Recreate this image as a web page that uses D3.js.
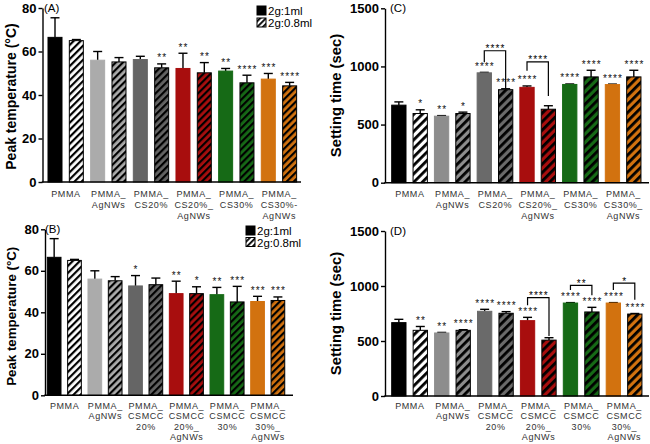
<!DOCTYPE html>
<html><head><meta charset="utf-8">
<script src="https://cdn.jsdelivr.net/npm/d3@7"></script>
<style>body{margin:0;background:#fff} svg{display:block} text{font-family:"Liberation Sans",Arial,sans-serif}</style>
</head><body><svg id="c" width="650" height="444"></svg>
<script>
// ---------- data ----------
const groupsCS = ["PMMA","PMMA_|AgNWs","PMMA_|CS20%","PMMA_|CS20%_|AgNWs","PMMA_|CS30%","PMMA_|CS30%-|AgNWs"];
const groupsCS_C = ["PMMA","PMMA_|AgNWs","PMMA_|CS20%","PMMA_|CS20%_|AgNWs","PMMA_|CS30%","PMMA_|CS30%_|AgNWs"];
const groupsCSMCC = ["PMMA","PMMA_|AgNWs","PMMA_|CSMCC|20%","PMMA_|CSMCC|20%_|AgNWs","PMMA_|CSMCC|30%","PMMA_|CSMCC|30%_|AgNWs"];
const seriesNames = ["2g:1ml","2g:0.8ml"];
const tempTicks = [0,20,40,60,80];
const timeTicks = [0,500,1000,1500];

const A_1ml = [66.5, 56, 56.3, 52.2, 51, 47.3];
const A_1ml_err = [9, 4, 1.5, 7, 1.2, 2.6];
const A_08 = [65, 55.2, 52.5, 50.2, 45.6, 44.2];
const A_08_err = [0.5, 2, 1.8, 4.7, 3.5, 1.6];
const A_1ml_sig = ["", "", "", "**", "**", "***"];
const A_08_sig = ["", "", "**", "**", "****", "****"];

const B_1ml = [66.5, 56, 52.7, 49, 48.5, 45.2];
const B_1ml_err = [9, 4, 5, 6, 3.5, 2.5];
const B_08 = [65, 55.2, 53.3, 49, 45, 45.7];
const B_08_err = [0.5, 2, 3.2, 3.3, 7.5, 1.7];
const B_1ml_sig = ["", "", "*", "**", "**", "***"];
const B_08_sig = ["", "", "", "*", "***", "***"];

const C_1ml = [667, 572, 945, 820, 845, 844];
const C_1ml_err = [28, 5, 4, 12, 4, 4];
const C_08 = [595, 595, 800, 632, 910, 910];
const C_08_err = [32, 12, 8, 30, 57, 57];
const C_1ml_sig = ["", "**", "****", "****", "****", "****"];
const C_08_sig = ["*", "*", "****", "", "****", "****"];
const C_brackets = [
  {group:2, label:"****", top:1135, leftEnd:1035, rightEnd:809},
  {group:3, label:"****", top:1040, leftEnd:962, rightEnd:745}
];

const D_1ml = [667, 573, 770, 685, 845, 845];
const D_1ml_err = [30, 5, 18, 30, 4, 4];
const D_08 = [597, 597, 752, 508, 764, 745];
const D_08_err = [35, 6, 15, 22, 42, 5];
const D_1ml_sig = ["", "**", "****", "****", "****", "****"];
const D_08_sig = ["**", "****", "****", "", "****", "****"];
const D_brackets = [
  {group:3, label:"****", top:894, leftEnd:825, rightEnd:545},
  {group:4, label:"**", top:1006, leftEnd:964, rightEnd:915},
  {group:5, label:"*", top:1027, leftEnd:964, rightEnd:875}
];

// ---------- drawing ----------
const svg = d3.select("#c");
const defs = svg.append("defs");
const FONT = '"Liberation Sans",Arial,sans-serif';

function hatch(id, bg, period, thick) {
  const p = defs.append("pattern").attr("id", id).attr("patternUnits","userSpaceOnUse")
    .attr("width", period).attr("height", period).attr("patternTransform","rotate(45)");
  p.append("rect").attr("width", period).attr("height", period).attr("fill", bg);
  p.append("rect").attr("width", thick).attr("height", period).attr("fill", "#000");
}

function panel(cfg) {
  const g = svg.append("g");
  const y = d3.scaleLinear().domain([0, cfg.max]).range([cfg.y0, cfg.yTop]);
  const n = cfg.v1.length * 2;
  const pi = 1 - cfg.bw / cfg.pitch;
  const r0 = cfg.firstLeft - (cfg.pitch - cfg.bw) / 2;
  const x = d3.scaleBand().domain(d3.range(n)).range([r0, r0 + n * cfg.pitch])
    .paddingInner(pi).paddingOuter(pi / 2);

  cfg.colors.forEach((c, i) => hatch(`${cfg.id}-h${i}`, i === 0 ? "#fff" : c, cfg.hp, cfg.ht));

  const rows = [];
  cfg.v1.forEach((v, i) => {
    rows.push({k: 2*i, g: i, v, e: cfg.e1[i], s: cfg.s1[i], hatched: false});
    rows.push({k: 2*i+1, g: i, v: cfg.v2[i], e: cfg.e2[i], s: cfg.s2[i], hatched: true});
  });

  const eb = g.append("g").attr("stroke", "#000").attr("stroke-width", 1.4);
  rows.forEach(r => {
    const cx = x(r.k) + x.bandwidth() / 2;
    eb.append("line").attr("x1", cx).attr("x2", cx).attr("y1", y(r.v)).attr("y2", y(r.v + r.e));
    eb.append("line").attr("x1", cx - 4.5).attr("x2", cx + 4.5).attr("y1", y(r.v + r.e)).attr("y2", y(r.v + r.e));
  });

  g.selectAll("rect.bar").data(rows).join("rect").attr("class","bar")
    .attr("x", d => x(d.k)).attr("width", x.bandwidth())
    .attr("y", d => y(d.v)).attr("height", d => y(0) - y(d.v))
    .attr("fill", d => d.hatched ? `url(#${cfg.id}-h${d.g})` : cfg.colors[d.g])
    .attr("stroke", d => d.hatched ? "#000" : cfg.colors[d.g])
    .attr("stroke-width", 1);

  g.selectAll("text.sig").data(rows.filter(r => r.s)).join("text").attr("class","sig")
    .attr("x", d => x(d.k) + x.bandwidth() / 2 + 0.6).attr("y", d => y(d.v + d.e) - 2.5)
    .attr("text-anchor","middle").attr("font-size", 10).attr("letter-spacing", 1.1)
    .attr("fill","#111").text(d => d.s);

  (cfg.brackets || []).forEach(b => {
    const xl = x(2*b.group) + x.bandwidth()/2, xr = x(2*b.group+1) + x.bandwidth()/2;
    g.append("path").attr("fill","none").attr("stroke","#000").attr("stroke-width",1.2)
      .attr("d", `M${xl},${y(b.leftEnd)}V${y(b.top)}H${xr}V${y(b.rightEnd)}`);
    g.append("text").attr("x", (xl + xr)/2 + 0.6).attr("y", y(b.top) + 1.5)
      .attr("text-anchor","middle").attr("font-size",10).attr("letter-spacing",1.1).text(b.label);
  });

  const ax = g.append("g").attr("transform", `translate(${cfg.x0},0)`)
    .call(d3.axisLeft(y).tickValues(cfg.ticks).tickFormat(d3.format("d")).tickSize(4).tickSizeOuter(0).tickPadding(2));
  ax.select(".domain").attr("stroke","#000").attr("stroke-width",1.4);
  ax.selectAll(".tick line").attr("stroke","#000").attr("stroke-width",1.4);
  ax.selectAll(".tick text").attr("font-family", FONT).attr("font-size", 13)
    .attr("font-weight","bold").attr("fill","#000");

  g.append("line").attr("x1", cfg.x0 - 0.7).attr("x2", cfg.x1).attr("y1", cfg.y0).attr("y2", cfg.y0)
    .attr("stroke","#000").attr("stroke-width",1.4);

  cfg.groups.forEach((lab, i) => {
    const cx = (x(2*i) + x(2*i+1) + x.bandwidth()) / 2;
    const t = g.append("text").attr("text-anchor","middle").attr("font-size", 9)
      .attr("letter-spacing", 0.6).attr("fill","#333");
    lab.split("|").forEach((line, j) => {
      t.append("tspan").attr("x", cx + 0.3).attr("y", cfg.y0 + cfg.lab0 + j * cfg.labStep).text(line);
    });
  });

  const ym = (cfg.y0 + cfg.yTop) / 2 + cfg.titleShift;
  g.append("text").attr("transform", `translate(${cfg.titleX},${ym}) rotate(-90)`)
    .attr("text-anchor","middle").attr("font-size", cfg.titleSize).attr("font-weight","bold")
    .text(cfg.title);

  g.append("text").attr("x", cfg.letterX).attr("y", cfg.yTop + 4).attr("font-size", 11.5).text(cfg.letter);

  if (cfg.legend) {
    const [lx, ly, step] = cfg.legend;
    hatch(`${cfg.id}-leg`, "#fff", 4, 1.8);
    seriesNames.forEach((nm, j) => {
      g.append("rect").attr("x", lx).attr("y", ly + j * step).attr("width", 9).attr("height", 9)
        .attr("fill", j === 0 ? "#000" : `url(#${cfg.id}-leg)`).attr("stroke","#000").attr("stroke-width",1);
      g.append("text").attr("x", lx + 11).attr("y", ly + j * step + 9).attr("font-size", 11.5).text(nm);
    });
  }
}

const colAB = ["#000000","#ababab","#656565","#a80e0e","#166a16","#d2720f"];
const colCD = ["#000000","#8d8d8d","#6a6a6a","#a80e0e","#166a16","#d2720f"];

panel({id:"A", letter:"(A)", letterX:44, title:"Peak temperature (°C)", titleX:16, titleSize:14, titleShift:1.5,
  max:80, ticks:tempTicks, y0:182, yTop:8, x0:42.5, x1:301, firstLeft:48, pitch:21.33, bw:14,
  groups:groupsCS, colors:colAB, v1:A_1ml, e1:A_1ml_err, v2:A_08, e2:A_08_err, s1:A_1ml_sig, s2:A_08_sig,
  lab0:14.5, labStep:11, hp:5, ht:2.2, legend:[257,6,12]});
panel({id:"B", letter:"(B)", letterX:45, title:"Peak temperature (°C)", titleX:16, titleSize:13.3, titleShift:4,
  max:80, ticks:tempTicks, y0:395.3, yTop:229.3, x0:45, x1:293, firstLeft:47.3, pitch:20.34, bw:13.7,
  groups:groupsCSMCC, colors:colAB, v1:B_1ml, e1:B_1ml_err, v2:B_08, e2:B_08_err, s1:B_1ml_sig, s2:B_08_sig,
  lab0:13.3, labStep:10.6, hp:5, ht:2.2, legend:[246,226,11.5]});
panel({id:"C", letter:"(C)", letterX:390, title:"Setting time (sec)", titleX:341, titleSize:14.8, titleShift:0,
  max:1500, ticks:timeTicks, y0:182.7, yTop:8.3, x0:385, x1:649, firstLeft:391.7, pitch:21.36, bw:14.3,
  groups:groupsCS_C, colors:colCD, v1:C_1ml, e1:C_1ml_err, v2:C_08, e2:C_08_err, s1:C_1ml_sig, s2:C_08_sig,
  brackets:C_brackets, lab0:14, labStep:11, hp:6, ht:2.8});
panel({id:"D", letter:"(D)", letterX:390, title:"Setting time (sec)", titleX:341, titleSize:14.8, titleShift:0,
  max:1500, ticks:timeTicks, y0:396, yTop:231, x0:385, x1:649, firstLeft:391.7, pitch:21.45, bw:14.3,
  groups:groupsCSMCC, colors:colCD, v1:D_1ml, e1:D_1ml_err, v2:D_08, e2:D_08_err, s1:D_1ml_sig, s2:D_08_sig,
  brackets:D_brackets, lab0:12.5, labStep:10.6, hp:6, ht:2.8});
</script></body></html>
